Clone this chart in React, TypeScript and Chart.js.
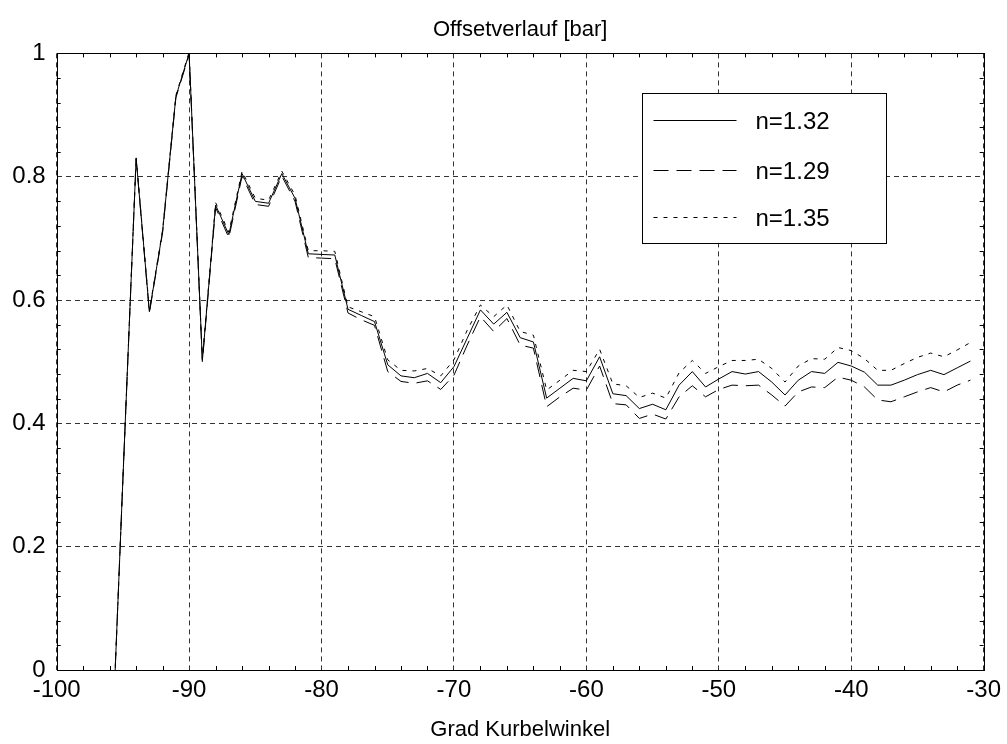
import React, { useEffect, useRef } from "react";
import { Chart, registerables } from "chart.js";

Chart.register(...registerables);

const angles = [
  -96, -95, -94, -93, -92, -91, -90, -89, -88, -87, -86, -85, -84, -83, -82, -81,
  -80, -79, -78, -77, -76, -75, -74, -73, -72, -71, -70, -69, -68, -67, -66, -65,
  -64, -63, -62, -61, -60, -59, -58, -57, -56, -55, -54, -53, -52, -51, -50, -49,
  -48, -47, -46, -45, -44, -43, -42, -41, -40, -39, -38, -37, -36, -35, -34, -33,
  -32, -31,
];

const n132 = [
  -0.22, 0.31, 0.83, 0.581, 0.712, 0.93, 1.0, 0.502, 0.754, 0.706, 0.805, 0.76, 0.757, 0.805, 0.765, 0.675,
  0.674, 0.673, 0.585, 0.575, 0.565, 0.495, 0.477, 0.474, 0.481, 0.466, 0.492, 0.538, 0.584, 0.561, 0.58, 0.539,
  0.532, 0.441, 0.457, 0.473, 0.469, 0.508, 0.448, 0.445, 0.424, 0.431, 0.422, 0.462, 0.484, 0.459, 0.472, 0.484,
  0.48, 0.484, 0.467, 0.446, 0.47, 0.484, 0.481, 0.499, 0.493, 0.483, 0.462, 0.462, 0.47, 0.479, 0.486, 0.479,
  0.49, 0.501,
];

const n129 = [
  -0.22, 0.31, 0.829, 0.579, 0.71, 0.928, 0.998, 0.5, 0.75, 0.701, 0.801, 0.755, 0.752, 0.801, 0.76, 0.669,
  0.668, 0.667, 0.579, 0.568, 0.559, 0.484, 0.468, 0.465, 0.469, 0.455, 0.478, 0.527, 0.573, 0.549, 0.57, 0.527,
  0.522, 0.427, 0.443, 0.457, 0.454, 0.493, 0.432, 0.43, 0.408, 0.415, 0.407, 0.443, 0.461, 0.443, 0.455, 0.462,
  0.461, 0.462, 0.446, 0.428, 0.451, 0.459, 0.458, 0.475, 0.47, 0.459, 0.438, 0.435, 0.443, 0.451, 0.458, 0.451,
  0.462, 0.47,
];

const n135 = [
  -0.22, 0.31, 0.832, 0.583, 0.714, 0.932, 1.002, 0.504, 0.758, 0.71, 0.809, 0.765, 0.762, 0.809, 0.77, 0.68,
  0.68, 0.679, 0.589, 0.581, 0.573, 0.503, 0.486, 0.485, 0.489, 0.477, 0.503, 0.551, 0.592, 0.573, 0.592, 0.549,
  0.543, 0.454, 0.47, 0.486, 0.484, 0.52, 0.464, 0.461, 0.442, 0.449, 0.441, 0.482, 0.502, 0.481, 0.492, 0.502,
  0.502, 0.504, 0.489, 0.467, 0.493, 0.505, 0.504, 0.523, 0.518, 0.505, 0.486, 0.486, 0.497, 0.507, 0.514, 0.508,
  0.519, 0.531,
];

const xTicks = [-100, -90, -80, -70, -60, -50, -40, -30];
const yTicks = [0, 0.2, 0.4, 0.6, 0.8, 1];
const yTickLabels = ["0", "0.2", "0.4", "0.6", "0.8", "1"];
const xMinorStep = 2;
const yMinorStep = 0.04;

const seriesLabels = ["n=1.32", "n=1.29", "n=1.35"];
const seriesDash = [[], [15, 8], [4, 6]];
const chartTitle = "Offsetverlauf [bar]";
const xTitle = "Grad Kurbelwinkel";

const FONT = '"Liberation Sans", Arial, Helvetica, sans-serif';

export default function App() {
  const ref = useRef<HTMLCanvasElement>(null);

  useEffect(() => {
    document.body.style.margin = "0";
    const canvas = ref.current!;

    const framePlugin = {
      id: "frameAndLegend",
      afterDatasetsDraw(chart: any) {
        const { ctx, chartArea } = chart;
        const { left, right, top, bottom } = chartArea;
        const xs = chart.scales.x;
        const ys = chart.scales.y;
        ctx.save();
        ctx.strokeStyle = "#000";
        ctx.lineWidth = 1;
        ctx.setLineDash([]);
        ctx.beginPath();
        for (let v = -100; v <= -30 + 1e-9; v += xMinorStep) {
          if (Math.abs(v % 10) < 1e-9) continue;
          const px = Math.round(xs.getPixelForValue(v)) + 0.5;
          ctx.moveTo(px, bottom);
          ctx.lineTo(px, bottom - 4);
          ctx.moveTo(px, top);
          ctx.lineTo(px, top + 4);
        }
        for (let i = 0; i <= 25; i++) {
          const v = i * yMinorStep;
          if (i % 5 === 0) continue;
          const py = Math.round(ys.getPixelForValue(v)) + 0.5;
          ctx.moveTo(left, py);
          ctx.lineTo(left + 4, py);
          ctx.moveTo(right, py);
          ctx.lineTo(right - 4, py);
        }
        ctx.stroke();
        ctx.strokeRect(
          Math.round(left) + 0.5,
          Math.round(top) + 0.5,
          Math.round(right) - Math.round(left),
          Math.round(bottom) - Math.round(top)
        );
        ctx.restore();
      },
      afterDraw(chart: any) {
        const { ctx, chartArea } = chart;
        const bx = Math.round(chartArea.left + 585) + 0.5;
        const by = Math.round(chartArea.top + 40) + 0.5;
        const bw = 244;
        const bh = 150;
        ctx.save();
        ctx.fillStyle = "#fff";
        ctx.fillRect(bx, by, bw, bh);
        ctx.strokeStyle = "#000";
        ctx.lineWidth = 1;
        ctx.setLineDash([]);
        ctx.strokeRect(bx, by, bw, bh);
        const rows = [26, 76, 123];
        ctx.font = `24px ${FONT}`;
        ctx.textBaseline = "middle";
        ctx.textAlign = "left";
        ctx.fillStyle = "#000";
        seriesLabels.forEach((lab, i) => {
          const y = Math.round(by + rows[i]) + 0.5;
          ctx.setLineDash(seriesDash[i]);
          ctx.beginPath();
          ctx.moveTo(bx + 11, y);
          ctx.lineTo(bx + 94, y);
          ctx.stroke();
          ctx.setLineDash([]);
          ctx.fillText(lab, bx + 113, y + 2);
        });
        ctx.restore();
      },
    };

    const mk = (label: string, vals: number[], dash: number[]) => ({
      label,
      data: angles.map((a, i) => ({ x: a, y: vals[i] })),
      borderColor: "#000",
      backgroundColor: "#000",
      borderWidth: 1,
      borderDash: dash,
      pointRadius: 0,
      tension: 0,
      fill: false,
    });

    const chart = new Chart(canvas, {
      type: "line",
      data: {
        datasets: [
          mk(seriesLabels[0], n132, seriesDash[0]),
          mk(seriesLabels[1], n129, seriesDash[1]),
          mk(seriesLabels[2], n135, seriesDash[2]),
        ],
      },
      options: {
        animation: false,
        responsive: false,
        devicePixelRatio: 1,
        layout: { padding: { left: 0, right: 20, top: 0, bottom: 0 } },
        plugins: {
          legend: { display: false },
          tooltip: { enabled: false },
          title: {
            display: true,
            text: chartTitle,
            fullSize: false,
            color: "#000",
            font: { family: FONT, size: 22, weight: "normal" },
            padding: { top: 17, bottom: 10 },
          },
        },
        scales: {
          x: {
            type: "linear",
            min: -100,
            max: -30,
            afterBuildTicks: (s: any) => {
              s.ticks = xTicks.map((v) => ({ value: v }));
            },
            afterFit: (s: any) => {
              s.height = 74;
            },
            ticks: {
              color: "#000",
              font: { family: FONT, size: 24 },
              padding: 6,
              maxRotation: 0,
              autoSkip: false,
              callback: (v: any) => String(v),
            },
            grid: { color: "#333", lineWidth: 1, drawTicks: false },
            border: { display: false, dash: [5, 4] },
            title: {
              display: true,
              text: xTitle,
              color: "#000",
              font: { family: FONT, size: 22 },
              padding: { top: 0, bottom: 1 },
            },
          },
          y: {
            type: "linear",
            min: 0,
            max: 1,
            afterBuildTicks: (s: any) => {
              s.ticks = yTicks.map((v) => ({ value: v }));
            },
            afterFit: (s: any) => {
              s.width = 56.7;
            },
            ticks: {
              color: "#000",
              font: { family: FONT, size: 24 },
              padding: 11,
              autoSkip: false,
              callback: (v: any, i: number) => yTickLabels[i],
            },
            grid: { color: "#333", lineWidth: 1, drawTicks: false },
            border: { display: false, dash: [5, 4] },
          },
        },
      },
      plugins: [framePlugin],
    } as any);

    return () => chart.destroy();
  }, []);

  return (
    <div style={{ width: 1007, height: 744 }}>
      <canvas ref={ref} width={1007} height={744} style={{ display: "block" }} />
    </div>
  );
}
